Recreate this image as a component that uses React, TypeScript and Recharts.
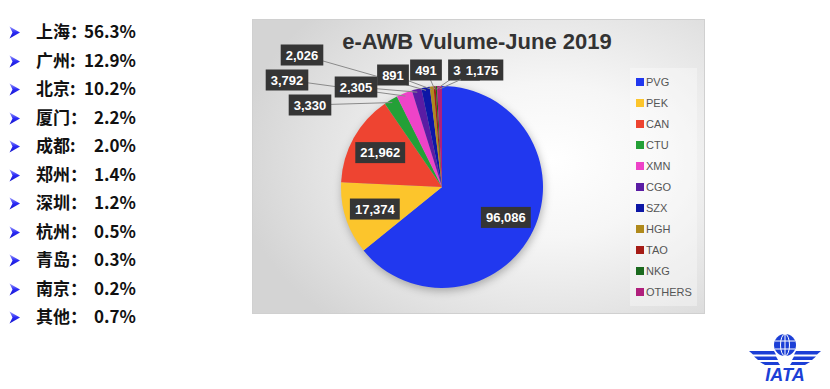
import { PieChart, Pie, Cell, Legend } from "recharts";

// airport codes in the order the slices run clockwise from 12 o'clock
const codes = ["PVG", "PEK", "CAN", "CTU", "XMN", "CGO", "SZX", "HGH", "TAO", "NKG", "OTHERS"];
const volumes = [96086, 17374, 21962, 3330, 3792, 2305, 2026, 891, 491, 341, 1175];
const colors = [
  "#2138ef", "#fcc52c", "#ee4431", "#24a037", "#ee43c8", "#5a1ca4",
  "#0d17a6", "#b08a1c", "#a61c16", "#1b6a1f", "#b01f7c",
];

// left-hand list
const cities = ["上海", "广州", "北京", "厦门", "成都", "郑州", "深圳", "杭州", "青岛", "南京", "其他"];
const colons = ["：", ":", ":", "：", ":", "：", "：", "：", "：", "：", "："];
const shares = ["56.3%", "12.9%", "10.2%", "2.2%", "2.0%", "1.4%", "1.2%", "0.5%", "0.3%", "0.2%", "0.7%"];

// where the outside value boxes sit, relative to the pie centre (null = inside the slice)
const labelSpots: ([number, number] | null)[] = [
  null, null, null,
  [-132, -82], [-155, -107], [-86, -100], [-140, -132],
  [-49, -112], [-16, -117], [22, -117], [40, -117],
];

const chartData = codes.map((name, i) => ({ name, value: volumes[i] }));
const RAD = Math.PI / 180;

function boxWidth(text: string) {
  let w = 0;
  for (const ch of text) w += ch === "," ? 3.6 : 7.25;
  return w + 10;
}

function renderLabel(props: any) {
  const { cx, cy, midAngle, outerRadius, index, value } = props;
  const text = Number(value).toLocaleString("en-US");
  const w = boxWidth(text);
  const h = 21;
  const cos = Math.cos(-midAngle * RAD);
  const sin = Math.sin(-midAngle * RAD);
  const spot = labelSpots[index];
  let bx: number, by: number;
  let line = null;
  if (!spot) {
    bx = cx + outerRadius * 0.7 * cos;
    by = cy + outerRadius * 0.7 * sin;
  } else {
    bx = cx + spot[0];
    by = cy + spot[1];
    const px = cx + (outerRadius - 3) * cos;
    const py = cy + (outerRadius - 3) * sin;
    line = <line x1={bx} y1={by} x2={px} y2={py} stroke="#8a8a8a" strokeWidth={1} />;
  }
  return (
    <g key={`lbl-${index}`}>
      {line}
      <rect x={bx - w / 2} y={by - h / 2} width={w} height={h} fill="#353535" />
      <text
        x={bx}
        y={by + 4.5}
        textAnchor="middle"
        fill="#ffffff"
        fontSize={13}
        fontWeight={700}
        fontFamily="'Liberation Sans', Arial, sans-serif"
      >
        {text}
      </text>
    </g>
  );
}

function renderLegend() {
  return (
    <div
      style={{
        background: "rgba(255,255,255,0.35)",
        padding: "3px 0 4px 6px",
        width: 67,
        boxSizing: "border-box",
      }}
    >
      {codes.map((c, i) => (
        <div key={c} style={{ display: "flex", alignItems: "center", height: 21 }}>
          <div style={{ width: 8, height: 8, background: colors[i], marginRight: 2 }} />
          <span
            style={{
              fontFamily: "'Liberation Sans', Arial, sans-serif",
              fontSize: 11,
              color: "#555",
            }}
          >
            {c}
          </span>
        </div>
      ))}
    </div>
  );
}

function Bullet() {
  return (
    <svg width={12} height={13} style={{ position: "absolute", left: 9, top: 8 }}>
      <defs>
        <linearGradient id="bl" x1="0" y1="0" x2="0" y2="1">
          <stop offset="0" stopColor="#9a9aff" />
          <stop offset="0.5" stopColor="#2a2af5" />
          <stop offset="1" stopColor="#1414c8" />
        </linearGradient>
      </defs>
      <path d="M0.5 0.5 L11 6.5 L0.5 12.5 L3.5 6.5 Z" fill="url(#bl)" />
    </svg>
  );
}

function IataLogo() {
  return (
    <svg width={90} height={70} style={{ position: "absolute", left: 740, top: 319 }}>
      <g fill="#1c3fd6">
        <circle cx={45} cy={26} r={11} />
        {/* wings */}
        <path d="M9 32 L34 32 L36 35.5 L13 35.5 Z" />
        <path d="M14 37.5 L36 37.5 L38 41 L18 41 Z" />
        <path d="M20 43 L38 43 L40 46 L25 46 Z" />
        <path d="M81 32 L56 32 L54 35.5 L77 35.5 Z" />
        <path d="M76 37.5 L54 37.5 L52 41 L72 41 Z" />
        <path d="M70 43 L52 43 L50 46 L65 46 Z" />
      </g>
      <g stroke="#ffffff" strokeWidth={1} fill="none">
        <ellipse cx={45} cy={26} rx={4.5} ry={11} />
        <line x1={45} y1={15} x2={45} y2={37} />
        <line x1={35} y1={22} x2={55} y2={22} />
        <line x1={35} y1={30} x2={55} y2={30} />
      </g>
      <text
        x={45}
        y={62}
        textAnchor="middle"
        fill="#1c3fd6"
        fontSize={18}
        fontWeight={700}
        fontStyle="italic"
        fontFamily="'Liberation Sans', Arial, sans-serif"
      >
        IATA
      </text>
    </svg>
  );
}

export default function App() {
  return (
    <div style={{ position: "fixed", left: 0, top: 0, width: 830, height: 389, background: "#fff", overflow: "hidden" }}>
      <style>{`.recharts-pie { filter: drop-shadow(1px 3px 4px rgba(0,0,0,0.28)); }`}</style>
      {/* city share list */}
      <div style={{ position: "absolute", left: 0, top: 18 }}>
        {cities.map((c, i) => (
          <div key={c} style={{ position: "relative", height: 28.5, width: 160 }}>
            <Bullet />
            <span
              style={{
                position: "absolute",
                left: 36,
                top: 0,
                fontSize: 17,
                fontWeight: 700,
                color: "#111",
                fontFamily: "'Noto Sans CJK SC', sans-serif",
                whiteSpace: "pre",
              }}
            >
              {c + colons[i]}
            </span>
            <span
              style={{
                position: "absolute",
                right: 24,
                top: 0,
                fontSize: 17,
                fontWeight: 700,
                color: "#111",
                fontFamily: "'Noto Sans CJK SC', sans-serif",
              }}
            >
              {shares[i]}
            </span>
          </div>
        ))}
      </div>

      {/* chart panel */}
      <div
        style={{
          position: "absolute",
          left: 253,
          top: 20,
          width: 451,
          height: 293,
          background:
            "radial-gradient(ellipse 70% 75% at 66% 48%, #ffffff 0%, #f6f6f6 35%, #e2e2e2 75%, #d4d4d4 100%)",
          boxShadow: "0 0 0 1px #d0d0d0",
        }}
      >
        <div
          style={{
            position: "absolute",
            left: 0,
            top: 9,
            width: 448,
            textAlign: "center",
            fontFamily: "'Liberation Sans', Arial, sans-serif",
            fontWeight: 700,
            fontSize: 22,
            color: "#333",
          }}
        >
          e-AWB Vulume-June 2019
        </div>
        <PieChart
          width={451}
          height={293}
          margin={{ top: 0, right: 0, bottom: 0, left: 0 }}
          style={{ position: "absolute", left: 0, top: 0 }}
        >
          <Pie
            data={chartData}
            dataKey="value"
            nameKey="name"
            cx={189}
            cy={167}
            outerRadius={101}
            startAngle={90}
            endAngle={-270}
            stroke="none"
            labelLine={false}
            label={renderLabel}
            isAnimationActive={false}
          >
            {chartData.map((d, i) => (
              <Cell key={d.name} fill={colors[i]} />
            ))}
          </Pie>
          <Legend
            content={renderLegend}
            layout="vertical"
            wrapperStyle={{ left: 377, top: 48, width: 67 }}
          />
        </PieChart>
      </div>

      <IataLogo />
    </div>
  );
}
